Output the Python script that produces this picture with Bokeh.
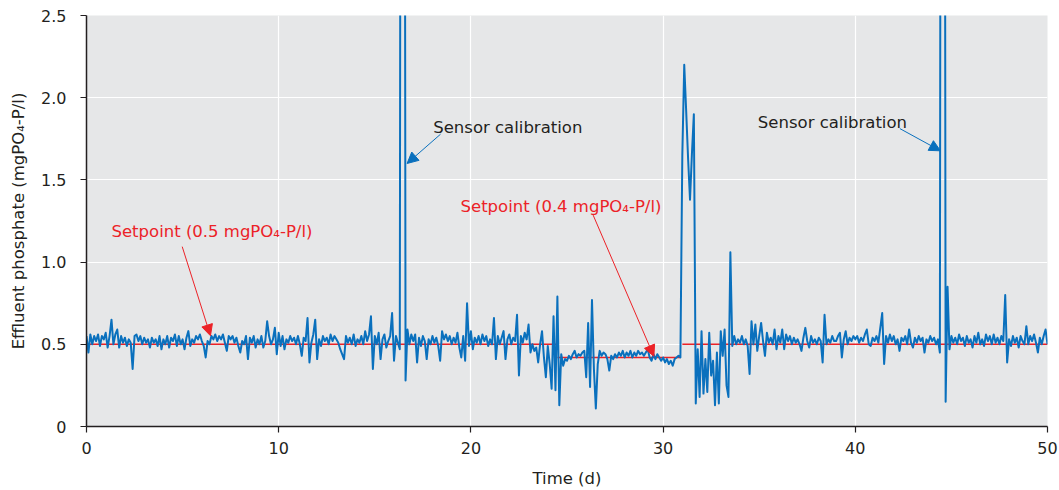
import numpy as np
from bokeh.plotting import figure
from bokeh.models import Range1d, FixedTicker, Label, Arrow, NormalHead, CustomJSTickFormatter
from bokeh.embed import file_html
from bokeh.resources import INLINE

# ---------------- data (effluent phosphate, mgPO4-P/l, one value every 0.1 d) ----------------
p_day00_10 = [
    0.55, 0.45, 0.56, 0.50, 0.55, 0.52, 0.56, 0.49, 0.55, 0.53,
    0.57, 0.48, 0.55, 0.65, 0.50, 0.56, 0.59, 0.48, 0.55, 0.51,
    0.54, 0.49, 0.53, 0.51, 0.35, 0.55, 0.56, 0.52, 0.55, 0.50,
    0.54, 0.51, 0.53, 0.48, 0.54, 0.51, 0.53, 0.49, 0.55, 0.47,
    0.53, 0.50, 0.55, 0.48, 0.54, 0.52, 0.56, 0.49, 0.55, 0.50,
    0.53, 0.47, 0.54, 0.58, 0.49, 0.53, 0.51, 0.55, 0.53, 0.56,
    0.52, 0.49, 0.42, 0.52, 0.50, 0.55, 0.53, 0.56, 0.52, 0.55,
    0.53, 0.56, 0.51, 0.46, 0.55, 0.53, 0.55, 0.51, 0.54, 0.49,
    0.45, 0.52, 0.50, 0.55, 0.41, 0.54, 0.51, 0.55, 0.48, 0.53,
    0.50, 0.55, 0.48, 0.52, 0.64, 0.55, 0.50, 0.53, 0.60, 0.44,
]
p_day10_20 = [
    0.57, 0.49, 0.55, 0.47, 0.53, 0.51, 0.55, 0.52, 0.54, 0.50,
    0.55, 0.50, 0.43, 0.54, 0.52, 0.66, 0.39, 0.51, 0.56, 0.65,
    0.41, 0.53, 0.49, 0.55, 0.52, 0.54, 0.50, 0.56, 0.52, 0.55,
    0.53, 0.51, 0.47, 0.44, 0.41, 0.55, 0.51, 0.54, 0.50, 0.56,
    0.49, 0.53, 0.51, 0.55, 0.50, 0.58, 0.52, 0.56, 0.67, 0.35,
    0.55, 0.50, 0.57, 0.41, 0.53, 0.56, 0.48, 0.52, 0.55, 0.69,
    0.40, 0.55, 0.51, 0.47, 10.0, 10.0, 0.28, 0.59, 0.50, 0.56,
    0.52, 0.56, 0.39, 0.54, 0.49, 0.55, 0.52, 0.41, 0.53, 0.50,
    0.55, 0.51, 0.54, 0.49, 0.40, 0.58, 0.53, 0.56, 0.52, 0.55,
    0.50, 0.54, 0.51, 0.57, 0.48, 0.42, 0.55, 0.40, 0.75, 0.49,
]
p_day20_30 = [
    0.58, 0.47, 0.54, 0.51, 0.55, 0.50, 0.56, 0.52, 0.55, 0.49,
    0.53, 0.50, 0.66, 0.41, 0.55, 0.50, 0.54, 0.58, 0.41, 0.53,
    0.56, 0.50, 0.54, 0.52, 0.68, 0.31, 0.55, 0.51, 0.57, 0.53,
    0.62, 0.45, 0.50, 0.46, 0.48, 0.39, 0.50, 0.58, 0.42, 0.30,
    0.49, 0.38, 0.23, 0.67, 0.22, 0.79, 0.13, 0.44, 0.37, 0.41,
    0.40, 0.43, 0.41, 0.44, 0.46, 0.42, 0.44, 0.43, 0.45, 0.46,
    0.30, 0.63, 0.24, 0.77, 0.35, 0.11, 0.38, 0.46, 0.43, 0.45,
    0.44, 0.41, 0.34, 0.43, 0.41, 0.44, 0.42, 0.45, 0.43, 0.46,
    0.42, 0.45, 0.43, 0.46, 0.42, 0.45, 0.43, 0.46, 0.44, 0.45,
    0.43, 0.45, 0.47, 0.42, 0.40, 0.44, 0.41, 0.44, 0.42, 0.40,
]
p_day30_40 = [
    0.42, 0.39, 0.41, 0.38, 0.40, 0.37, 0.41, 0.42, 0.43, 0.42,
    1.65, 2.20, 1.92, 1.63, 1.38, 1.66, 1.90, 0.14, 0.47, 0.18,
    0.58, 0.20, 0.41, 0.21, 0.57, 0.31, 0.40, 0.13, 0.45, 0.14,
    0.58, 0.43, 0.59, 0.25, 0.18, 1.06, 0.49, 0.55, 0.50, 0.53,
    0.51, 0.55, 0.50, 0.53, 0.49, 0.32, 0.64, 0.50, 0.62, 0.46,
    0.55, 0.63, 0.52, 0.43, 0.57, 0.51, 0.54, 0.50, 0.59, 0.47,
    0.55, 0.51, 0.59, 0.47, 0.56, 0.52, 0.55, 0.50, 0.54, 0.51,
    0.53, 0.50, 0.46, 0.54, 0.60, 0.52, 0.48, 0.55, 0.51, 0.53,
    0.50, 0.54, 0.52, 0.39, 0.68, 0.50, 0.53, 0.51, 0.55, 0.52,
    0.52, 0.55, 0.57, 0.42, 0.53, 0.58, 0.50, 0.54, 0.52, 0.55,
]
p_day40_50 = [
    0.53, 0.55, 0.51, 0.54, 0.52, 0.56, 0.59, 0.50, 0.49, 0.54,
    0.52, 0.55, 0.51, 0.60, 0.69, 0.38, 0.55, 0.51, 0.56, 0.52,
    0.55, 0.50, 0.53, 0.46, 0.54, 0.52, 0.55, 0.50, 0.59, 0.51,
    0.48, 0.54, 0.51, 0.55, 0.52, 0.54, 0.45, 0.53, 0.51, 0.55,
    0.52, 0.54, 0.50, 0.53, 0.45, 10.0, 10.0, 0.15, 0.85, 0.47,
    0.55, 0.51, 0.54, 0.50, 0.56, 0.52, 0.54, 0.49, 0.55, 0.51,
    0.53, 0.48, 0.55, 0.51, 0.57, 0.50, 0.53, 0.49, 0.56, 0.52,
    0.55, 0.50, 0.56, 0.51, 0.54, 0.50, 0.55, 0.52, 0.80, 0.39,
    0.53, 0.49, 0.55, 0.51, 0.54, 0.48, 0.55, 0.52, 0.50, 0.61,
    0.50, 0.55, 0.52, 0.56, 0.51, 0.45, 0.54, 0.50, 0.55, 0.59,
    0.50,
]
sample_step_days = 0.1

# setpoint periods
setpoint_start = [0.0, 24.5, 31.0]
setpoint_end = [24.5, 30.9, 50.0]
setpoint_level = [0.5, 0.42, 0.5]

# ticks
x_ticks = [0, 10, 20, 30, 40, 50]
y_ticks = [0, 0.5, 1.0, 1.5, 2.0, 2.5]

# annotations (text, x, y) and arrows (x_start, y_start, x_end, y_end)
red_texts = ["Setpoint (0.5 mgPO\u2084-P/l)", "Setpoint (0.4 mgPO\u2084-P/l)"]
red_text_x = [1.30, 19.46]
red_text_y = [1.185, 1.337]
red_arrow_x0 = [4.98, 26.36]
red_arrow_y0 = [1.094, 1.286]
red_arrow_x1 = [6.45, 29.52]
red_arrow_y1 = [0.552, 0.427]

black_texts = ["Sensor calibration", "Sensor calibration"]
black_text_x = [18.04, 34.93]
black_text_y = [1.816, 1.847]
blue_arrow_x0 = [18.42, 42.32]
blue_arrow_y0 = [1.778, 1.812]
blue_arrow_x1 = [16.68, 44.43]
blue_arrow_y1 = [1.600, 1.677]

# ---------------- plot ----------------
values = p_day00_10 + p_day10_20 + p_day20_30 + p_day30_40 + p_day40_50
time = [round(i * sample_step_days, 1) for i in range(len(values))]

BLUE = "#0a70bd"
RED = "#ec2227"
TXT = "#231f20"
FONT = "DejaVu Sans"

p = figure(width=1059, height=490, output_backend="svg", toolbar_location=None,
           x_range=Range1d(0, 50), y_range=Range1d(0, 2.5),
           min_border_left=86, min_border_right=12, min_border_top=15, min_border_bottom=63)
p.background_fill_color = "#e6e7e8"
p.border_fill_color = "white"
p.outline_line_color = None

p.xaxis.ticker = FixedTicker(ticks=x_ticks)
p.yaxis.ticker = FixedTicker(ticks=y_ticks)
p.yaxis.formatter = CustomJSTickFormatter(code="return tick == 0 ? '0' : tick.toFixed(1);")

p.xgrid.grid_line_color = "white"
p.ygrid.grid_line_color = "white"
p.xgrid.grid_line_width = 1.2
p.ygrid.grid_line_width = 1.2

for ax in (p.xaxis[0], p.yaxis[0]):
    ax.axis_line_color = TXT
    ax.axis_line_width = 1.5
    ax.major_tick_line_color = TXT
    ax.major_tick_line_width = 1.2
    ax.major_tick_out = 6
    ax.major_tick_in = 0
    ax.minor_tick_line_color = None
    ax.major_label_text_font = FONT
    ax.major_label_text_font_size = "16px"
    ax.major_label_text_color = TXT
    ax.axis_label_text_font = FONT
    ax.axis_label_text_font_size = "16.5px"
    ax.axis_label_text_font_style = "normal"
    ax.axis_label_text_color = TXT

p.xaxis.axis_label = "Time (d)"
p.yaxis.axis_label = "Effluent phosphate (mgPO\u2084-P/l)"
p.xaxis.major_label_standoff = 9
p.yaxis.major_label_standoff = 14
p.xaxis.axis_label_standoff = 12
p.yaxis.axis_label_standoff = 10

p.segment(x0=setpoint_start, y0=setpoint_level, x1=setpoint_end, y1=setpoint_level,
          line_color=RED, line_width=1.5)
p.line(time, values, line_color=BLUE, line_width=2, line_join="round")

for t, x, y in zip(red_texts, red_text_x, red_text_y):
    p.add_layout(Label(x=x, y=y, text=t, text_font=FONT, text_font_size="16.5px",
                       text_color=RED, text_baseline="alphabetic", text_align="left"))
for t, x, y in zip(black_texts, black_text_x, black_text_y):
    p.add_layout(Label(x=x, y=y, text=t, text_font=FONT, text_font_size="16.5px",
                       text_color=TXT, text_baseline="alphabetic", text_align="left"))

for x0, y0, x1, y1 in zip(red_arrow_x0, red_arrow_y0, red_arrow_x1, red_arrow_y1):
    p.add_layout(Arrow(end=NormalHead(size=11, fill_color=RED, line_color=RED, line_width=1),
                       x_start=x0, y_start=y0, x_end=x1, y_end=y1,
                       line_color=RED, line_width=1))
for x0, y0, x1, y1 in zip(blue_arrow_x0, blue_arrow_y0, blue_arrow_x1, blue_arrow_y1):
    p.add_layout(Arrow(end=NormalHead(size=11, fill_color=BLUE, line_color=BLUE, line_width=1),
                       x_start=x0, y_start=y0, x_end=x1, y_end=y1,
                       line_color=BLUE, line_width=1))

open("out.html", "w").write(file_html(p, INLINE))
